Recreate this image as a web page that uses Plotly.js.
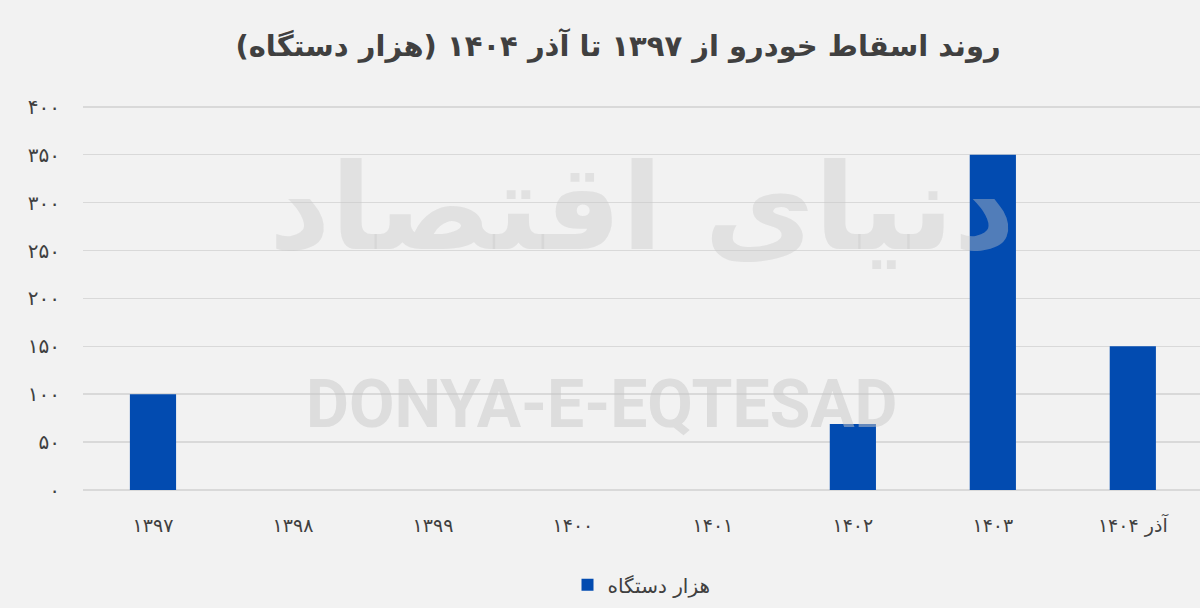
<!DOCTYPE html>
<html>
<head>
<meta charset="utf-8">
<script src="https://cdn.plot.ly/plotly-3.0.1.min.js"></script>
<style>html,body{margin:0;padding:0;background:#f2f2f2;}#chart{width:1200px;height:608px;}</style>
</head>
<body>
<div id="chart"></div>
<script>
const categories = ["۱۳۹۷", "۱۳۹۸", "۱۳۹۹", "۱۴۰۰", "۱۴۰۱", "۱۴۰۲", "۱۴۰۳", "آذر ۱۴۰۴"];
const values = [100, 0, 0, 0, 0, 69, 350, 150];
const yTickVals = [0, 50, 100, 150, 200, 250, 300, 350, 400];
const yTickText = ["۰", "۵۰", "۱۰۰", "۱۵۰", "۲۰۰", "۲۵۰", "۳۰۰", "۳۵۰", "۴۰۰"];
const seriesName = "هزار دستگاه";
const titleText = "روند اسقاط خودرو از ۱۳۹۷ تا آذر ۱۴۰۴ (هزار دستگاه)";

const fontFam = "DejaVu Sans, Noto Sans, sans-serif";

const trace = {
  type: "bar",
  x: categories,
  y: values,
  name: seriesName,
  marker: {color: "#024BB0"},
  width: 0.33,
  showlegend: true
};

const layout = {
  width: 1200, height: 608,
  paper_bgcolor: "#f2f2f2",
  plot_bgcolor: "#f2f2f2",
  margin: {l: 83, r: 0, t: 103, b: 118},
  title: {
    text: "<b>" + titleText + "</b>",
    x: 0.515, xanchor: "center",
    y: 0.925, yanchor: "middle",
    font: {family: fontFam, size: 29, color: "#404040"}
  },
  xaxis: {
    type: "category",
    range: [-0.5, 7.48],
    showgrid: false,
    zeroline: false,
    showline: false,
    ticks: "",
    ticklabelstandoff: 22,
    tickfont: {family: fontFam, size: 19, color: "#404040"},
    fixedrange: true
  },
  yaxis: {
    range: [0, 404],
    tickvals: yTickVals,
    ticktext: yTickText,
    showgrid: true,
    gridcolor: "#d9d9d9",
    gridwidth: 1.5,
    zeroline: true,
    zerolinecolor: "#d9d9d9",
    zerolinewidth: 1.5,
    showline: false,
    ticks: "",
    ticklabelstandoff: 22,
    tickfont: {family: fontFam, size: 20, color: "#404040"},
    fixedrange: true
  },
  legend: {
    orientation: "h",
    x: 0.5, xanchor: "center",
    y: -0.245, yanchor: "middle",
    font: {family: fontFam, size: 20, color: "#404040"},
    bgcolor: "rgba(0,0,0,0)"
  },
  bargap: 0.67,
  annotations: [
    {
      text: "<b>DONYA-E-EQTESAD</b>",
      xref: "paper", yref: "paper",
      x: 0.465, y: 0.22, xanchor: "center", yanchor: "middle",
      showarrow: false,
      font: {family: "Roboto, Liberation Sans, sans-serif", size: 66, color: "rgba(200,200,200,0.5)"}
    },
    {
      text: "<b>دنیای اقتصاد</b>",
      xref: "paper", yref: "paper",
      x: 0.5, y: 0.73, xanchor: "center", yanchor: "middle",
      showarrow: false,
      font: {family: fontFam, size: 120, color: "rgba(200,200,200,0.4)"}
    }
  ]
};

Plotly.newPlot("chart", [trace], layout, {displayModeBar: false, staticPlot: true});
</script>
</body>
</html>
